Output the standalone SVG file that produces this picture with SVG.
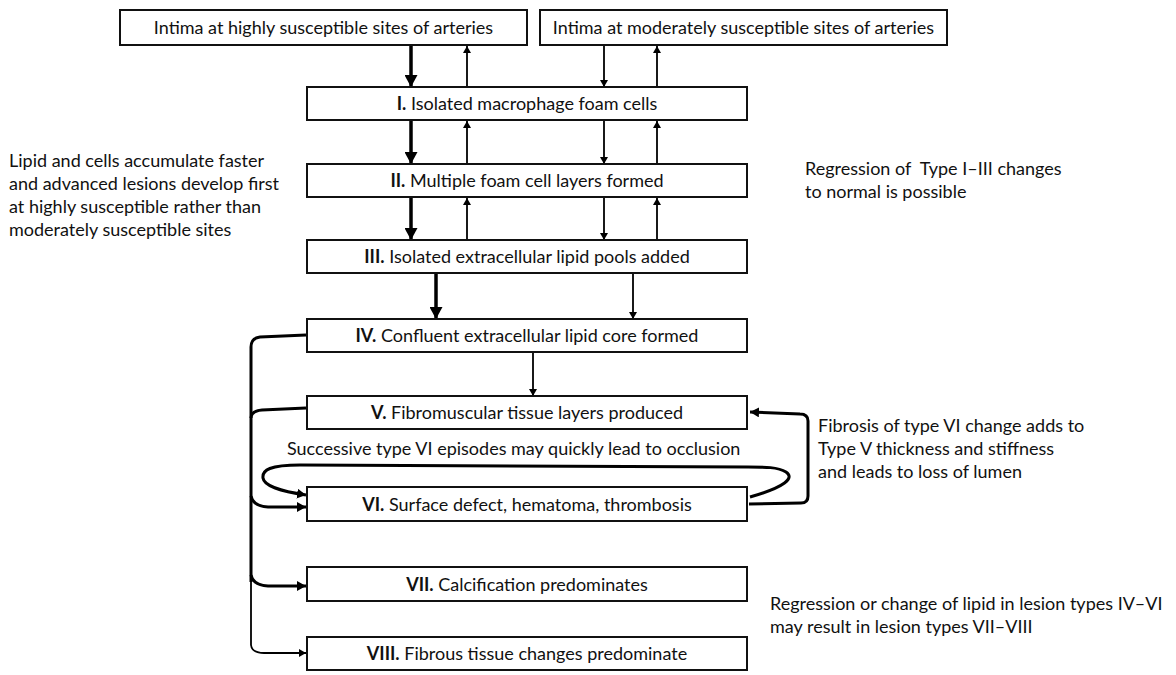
<svg xmlns="http://www.w3.org/2000/svg" width="1176" height="675" viewBox="0 0 1176 675">
  <defs>
    <style>
      text { font-family: Lato, "Liberation Sans", sans-serif; font-size: 18px; fill: #111; }
      .box rect { fill: #fff; stroke: #111; stroke-width: 2; }
      .box text { text-anchor: middle; }
      .b { font-weight: bold; }
      .thick { fill: none; stroke: #000; stroke-width: 3.5; }
      .thin { fill: none; stroke: #000; stroke-width: 1.8; }
      .loop { fill: none; stroke: #000; stroke-width: 3; }
    </style>
    <marker id="headL" markerUnits="userSpaceOnUse" markerWidth="13" markerHeight="13" refX="12" refY="6.5" orient="auto">
      <path d="M0,0 L12,6.5 L0,13 Z" fill="#000"/>
    </marker>
    <marker id="headS" markerUnits="userSpaceOnUse" markerWidth="8" markerHeight="8" refX="7" refY="4" orient="auto">
      <path d="M0,0 L7,4 L0,8 Z" fill="#000"/>
    </marker>
    <marker id="headM" markerUnits="userSpaceOnUse" markerWidth="10" markerHeight="10" refX="9" refY="5" orient="auto">
      <path d="M0,0 L9,5 L0,10 Z" fill="#000"/>
    </marker>
  </defs>

  <rect width="1176" height="675" fill="#fff"/>

  <!-- connectors -->
  <g id="connectors">
    <!-- sources to type I -->
    <line class="thick" x1="411" y1="46" x2="411" y2="87" marker-end="url(#headL)"/>
    <line class="thin" x1="467" y1="87" x2="467" y2="46" marker-end="url(#headS)"/>
    <line class="thin" x1="604" y1="46" x2="604" y2="87" marker-end="url(#headS)"/>
    <line class="thin" x1="657" y1="87" x2="657" y2="46" marker-end="url(#headS)"/>
    <!-- I to II -->
    <line class="thick" x1="411" y1="121" x2="411" y2="164" marker-end="url(#headL)"/>
    <line class="thin" x1="467" y1="164" x2="467" y2="121" marker-end="url(#headS)"/>
    <line class="thin" x1="604" y1="121" x2="604" y2="164" marker-end="url(#headS)"/>
    <line class="thin" x1="657" y1="164" x2="657" y2="121" marker-end="url(#headS)"/>
    <!-- II to III -->
    <line class="thick" x1="411" y1="198" x2="411" y2="240" marker-end="url(#headL)"/>
    <line class="thin" x1="467" y1="240" x2="467" y2="198" marker-end="url(#headS)"/>
    <line class="thin" x1="604" y1="198" x2="604" y2="240" marker-end="url(#headS)"/>
    <line class="thin" x1="657" y1="240" x2="657" y2="198" marker-end="url(#headS)"/>
    <!-- III to IV -->
    <line class="thick" x1="436" y1="274" x2="436" y2="319" marker-end="url(#headL)"/>
    <line class="thin" x1="633" y1="274" x2="633" y2="319" marker-end="url(#headS)"/>
    <!-- IV to V -->
    <line class="thin" x1="533" y1="353" x2="533" y2="396" marker-end="url(#headS)"/>

    <!-- left trunk from IV and V to VI, VII, VIII -->
    <path class="loop" d="M306,335 L260,337 Q251,338 251,347 L251,582"/>
    <path class="loop" d="M306,408 L262,410 Q251,411 251,418"/>
    <path class="loop" d="M251,496 Q253,506 268,507 L306,507" marker-end="url(#headM)"/>
    <path class="loop" d="M251,575 Q253,585 268,586 L306,586" marker-end="url(#headM)"/>
    <path class="thin" d="M251,580 L251,645 Q252,653 264,653 L306,653" marker-end="url(#headS)"/>

    <!-- recurring type VI loop -->
    <path class="loop" d="M750,497 C785,487 795,478 786,472 C778,467 765,467 748,467 L300,465 C270,465 262,470 263,478 C264,486 280,491 306,495" marker-end="url(#headM)"/>

    <!-- VI back to V -->
    <path class="loop" d="M749,504 L801,503 Q808,503 808,496 L808,421 Q808,414 800,414 L750,412" marker-end="url(#headM)"/>
  </g>

  <!-- nodes -->
  <g id="node-high" class="box">
    <rect x="120" y="10" width="407" height="35"/>
    <text x="323.5" y="34">Intima at highly susceptible sites of arteries</text>
  </g>
  <g id="node-moderate" class="box">
    <rect x="540" y="10" width="407" height="35"/>
    <text x="743.5" y="34">Intima at moderately susceptible sites of arteries</text>
  </g>
  <g id="node-1" class="box">
    <rect x="307" y="87" width="440" height="33"/>
    <text x="527" y="110"><tspan class="b">I.</tspan> Isolated macrophage foam cells</text>
  </g>
  <g id="node-2" class="box">
    <rect x="307" y="164" width="440" height="33"/>
    <text x="527" y="187"><tspan class="b">II.</tspan> Multiple foam cell layers formed</text>
  </g>
  <g id="node-3" class="box">
    <rect x="307" y="240" width="440" height="33"/>
    <text x="527" y="263"><tspan class="b">III.</tspan> Isolated extracellular lipid pools added</text>
  </g>
  <g id="node-4" class="box">
    <rect x="307" y="319" width="440" height="33"/>
    <text x="527" y="342"><tspan class="b">IV.</tspan> Confluent extracellular lipid core formed</text>
  </g>
  <g id="node-5" class="box">
    <rect x="307" y="396" width="440" height="33"/>
    <text x="527" y="419"><tspan class="b">V.</tspan> Fibromuscular tissue layers produced</text>
  </g>
  <g id="node-6" class="box">
    <rect x="307" y="487" width="440" height="34"/>
    <text x="527" y="511"><tspan class="b">VI.</tspan> Surface defect, hematoma, thrombosis</text>
  </g>
  <g id="node-7" class="box">
    <rect x="307" y="567" width="440" height="34"/>
    <text x="527" y="591"><tspan class="b">VII.</tspan> Calcification predominates</text>
  </g>
  <g id="node-8" class="box">
    <rect x="307" y="637" width="440" height="33"/>
    <text x="527" y="660"><tspan class="b">VIII.</tspan> Fibrous tissue changes predominate</text>
  </g>

  <!-- annotations -->
  <g id="notes">
    <text x="9" y="167">Lipid and cells accumulate faster</text>
    <text x="9" y="190">and advanced lesions develop first</text>
    <text x="9" y="213">at highly susceptible rather than</text>
    <text x="9" y="236">moderately susceptible sites</text>

    <text x="805" y="175" xml:space="preserve">Regression of  Type I–III changes</text>
    <text x="805" y="198">to normal is possible</text>

    <text x="287" y="455">Successive type VI episodes may quickly lead to occlusion</text>

    <text x="818" y="432">Fibrosis of type VI change adds to</text>
    <text x="818" y="455">Type V thickness and stiffness</text>
    <text x="818" y="478">and leads to loss of lumen</text>

    <text x="770" y="610">Regression or change of lipid in lesion types IV–VI</text>
    <text x="770" y="633">may result in lesion types VII–VIII</text>
  </g>
</svg>
